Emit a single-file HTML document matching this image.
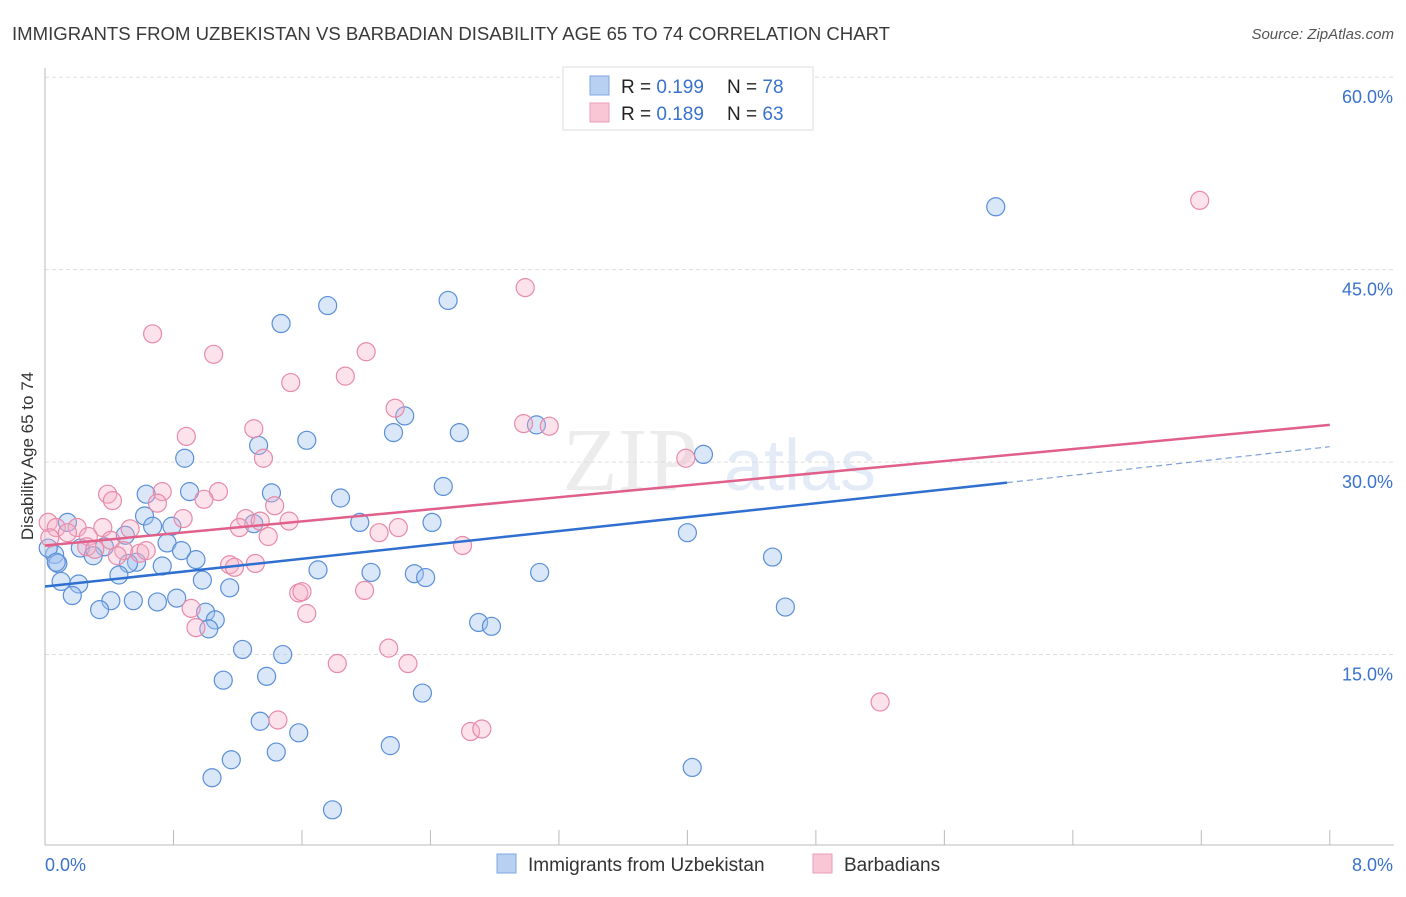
<!DOCTYPE html>
<html><head><meta charset="utf-8"><style>
body{margin:0;background:#fff;font-family:"Liberation Sans",sans-serif;}
</style></head><body>
<svg width="1406" height="892" xmlns="http://www.w3.org/2000/svg" font-family="Liberation Sans, sans-serif">
<text x="12" y="40" font-size="18" fill="#3a3a3a" textLength="878" lengthAdjust="spacingAndGlyphs">IMMIGRANTS FROM UZBEKISTAN VS BARBADIAN DISABILITY AGE 65 TO 74 CORRELATION CHART</text>
<text x="1394" y="39" font-size="15" fill="#555" font-style="italic" text-anchor="end">Source: ZipAtlas.com</text>
<text x="33" y="456" font-size="17" fill="#333" text-anchor="middle" transform="rotate(-90 33 456)">Disability Age 65 to 74</text>
<g><text x="630" y="490" font-size="90" fill="#ececec" font-family="Liberation Serif, serif" text-anchor="middle">ZIP</text><text x="800" y="490" font-size="72" fill="#e3ebf7" text-anchor="middle">atlas</text></g>
<g id="grid"></g><g id="axes"></g><g id="marks"></g><g id="trends"></g>
<g>
<rect x="563" y="67" width="250" height="63" fill="#fff" stroke="#ddd"/>
<rect x="590" y="76" width="19" height="19" fill="#b8d1f3" stroke="#7ea7e0"/>
<rect x="590" y="103" width="19" height="19" fill="#f8c6d5" stroke="#eb9db7"/>
<text x="621" y="93" font-size="19" fill="#222">R = <tspan fill="#3a72cc">0.199</tspan><tspan x="727">N = </tspan><tspan fill="#3a72cc">78</tspan></text>
<text x="621" y="120" font-size="19" fill="#222">R = <tspan fill="#3a72cc">0.189</tspan><tspan x="727">N = </tspan><tspan fill="#3a72cc">63</tspan></text>
</g>
<g>
<rect x="497" y="854" width="19" height="19" fill="#b8d1f3" stroke="#7ea7e0"/>
<text x="528" y="871" font-size="19" fill="#333">Immigrants from Uzbekistan</text>
<rect x="813" y="854" width="19" height="19" fill="#f8c6d5" stroke="#eb9db7"/>
<text x="844" y="871" font-size="19" fill="#333">Barbadians</text>
</g>
</svg>
<script>
const yTicks=[15,30,45,60];
const yTickLabels=["15.0%","30.0%","45.0%","60.0%"];
const xTickVals=[0,0.8,1.6,2.4,3.2,4.0,4.8,5.6,6.4,7.2,8.0];
const blueX=[5.92,2.51,1.76,1.47,2.24,2.17,3.06,2.58,1.63,1.33,0.87,4.10,2.48,1.41,1.84,0.63,0.90,0.14,0.62,0.79,0.67,0.50,1.96,2.41,1.30,4.00,0.76,0.85,0.22,0.37,0.06,0.30,0.57,0.52,0.94,4.53,0.08,0.73,1.70,2.03,0.46,2.30,2.37,3.08,0.98,0.10,0.21,1.15,0.17,0.41,0.55,0.70,0.82,1.00,4.61,0.34,1.06,2.70,2.78,1.02,1.23,1.48,1.38,1.11,2.35,1.34,1.58,1.44,2.15,1.16,1.04,4.03,1.79,0.02,0.07];
const blueY=[49.9,42.6,42.2,40.8,33.6,32.3,32.9,32.3,31.7,31.3,30.3,30.6,28.1,27.6,27.2,27.5,27.7,25.3,25.8,25.0,25.0,24.3,25.3,25.3,25.2,24.5,23.7,23.1,23.3,23.4,22.8,22.7,22.2,22.1,22.4,22.6,22.1,21.9,21.6,21.4,21.2,21.3,21.0,21.4,20.8,20.7,20.5,20.2,19.6,19.2,19.2,19.1,19.4,18.3,18.7,18.5,17.7,17.5,17.2,17.0,15.4,15.0,13.3,13.0,12.0,9.8,8.9,7.4,7.9,6.8,5.4,6.2,2.9,23.3,22.2];
const pinkX=[7.19,2.99,0.67,1.05,2.00,1.87,1.53,2.18,2.98,3.14,0.88,1.30,1.36,3.99,0.39,0.42,0.73,1.08,0.99,0.70,1.43,1.25,0.86,1.21,1.34,1.52,2.20,2.08,0.02,0.07,0.20,0.36,0.53,0.03,0.14,0.27,0.41,1.39,0.26,0.31,0.49,0.59,0.63,2.60,0.45,1.15,1.18,1.31,1.58,1.60,1.99,0.91,1.63,0.94,2.14,2.26,1.82,5.20,1.45,2.65,2.72];
const pinkY=[50.4,43.6,40.0,38.4,38.6,36.7,36.2,34.2,33.0,32.8,32.0,32.6,30.3,30.3,27.5,27.0,27.7,27.7,27.1,26.8,26.6,25.6,25.6,24.9,25.4,25.4,24.9,24.5,25.3,24.9,24.9,24.9,24.8,24.1,24.5,24.2,23.9,24.2,23.4,23.2,23.1,22.9,23.1,23.5,22.7,22.0,21.8,22.1,19.8,19.9,20.0,18.6,18.2,17.1,15.5,14.3,14.3,11.3,9.9,9.0,9.2];
const blueTrend=[20.3,28.4,31.2];const blueTrendX=[0,5.99,8];
const pinkTrend=[23.5,32.9];const pinkTrendX=[0,8];
const NS="http://www.w3.org/2000/svg";
const sx=v=>45+v*160.6, sy=v=>847-v*12.83;
function mk(t,a,p){const e=document.createElementNS(NS,t);for(const k in a)e.setAttribute(k,a[k]);document.getElementById(p).appendChild(e);return e;}
yTicks.forEach((t,i)=>{
 const l=mk('line',{x1:45,x2:1394,y1:sy(t),y2:sy(t),stroke:'#ddd','stroke-dasharray':'4 3'},'grid');
 
 
 const tx=mk('text',{x:1393,y:sy(t)+26,'font-size':18,fill:'#3a72cc','text-anchor':'end'},'axes');tx.textContent=yTickLabels[i];
 
 
});
let a=mk('line',{x1:45,x2:45,y1:68,y2:845,stroke:'#bbb'},'axes');


a=mk('line',{x1:45,x2:1394,y1:845,y2:845,stroke:'#bbb'},'axes');


xTickVals.forEach(v=>{const t=mk('line',{x1:sx(v),x2:sx(v),y1:830,y2:845,stroke:'#bbb'},'axes');
 
 });
let t=mk('text',{x:45,y:871,'font-size':18,fill:'#3a72cc'},'axes');t.textContent='0.0%';


t=mk('text',{x:1393,y:871,'font-size':18,fill:'#3a72cc','text-anchor':'end'},'axes');t.textContent='8.0%';


blueX.forEach((x,i)=>{const c=mk('circle',{cx:sx(x),cy:sy(blueY[i]),r:9,fill:'rgba(160,195,240,0.4)',stroke:'#5b8fd8','stroke-width':1.2},'marks');
 
 });
pinkX.forEach((x,i)=>{const c=mk('circle',{cx:sx(x),cy:sy(pinkY[i]),r:9,fill:'rgba(245,175,198,0.35)',stroke:'#e88aa8','stroke-width':1.2},'marks');
 
 });
let l=mk('line',{x1:sx(blueTrendX[0]),y1:sy(blueTrend[0]),x2:sx(blueTrendX[1]),y2:sy(blueTrend[1]),stroke:'#2f6fd0','stroke-width':2.5},'trends');


l=mk('line',{x1:sx(blueTrendX[1]),y1:sy(blueTrend[1]),x2:sx(blueTrendX[2]),y2:sy(blueTrend[2]),stroke:'#7ea0d8','stroke-width':1.2,'stroke-dasharray':'6 4'},'trends');


l=mk('line',{x1:sx(pinkTrendX[0]),y1:sy(pinkTrend[0]),x2:sx(pinkTrendX[1]),y2:sy(pinkTrend[1]),stroke:'#e0608a','stroke-width':2.5},'trends');


</script>
</body></html>
